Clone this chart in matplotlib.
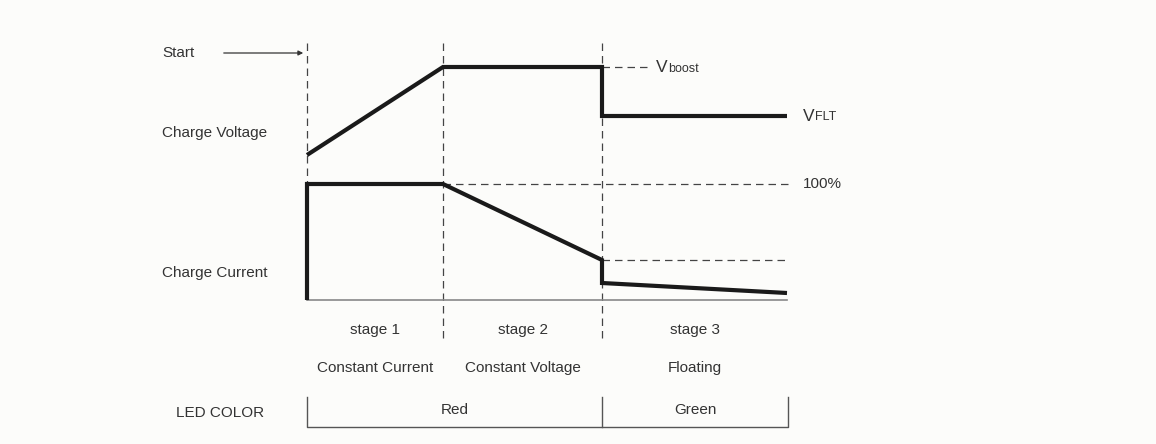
import matplotlib
matplotlib.use("Agg")
import matplotlib.pyplot as plt

# charge profile (diagram units: x to the right, y downwards like the sheet)
volt_x = [307, 443, 602, 602, 787]
volt_y = [155, 67, 67, 116, 116]
curr_x = [307, 307, 443, 602, 602, 787]
curr_y = [300, 184, 184, 260, 283, 293]

stage_x = [307, 443, 602]
stage_names = ["stage 1", "stage 2", "stage 3"]
mode_names = ["Constant Current", "Constant Voltage", "Floating"]
led_names = ["Red", "Green"]

BG = "#fcfcfa"
TXT = "#333333"
plt.rcParams["font.family"] = ["Liberation Sans", "DejaVu Sans"]

fig = plt.figure(figsize=(11.56, 4.44), dpi=100, facecolor=BG)
ax = fig.add_axes([0, 0, 1, 1])
ax.set_facecolor(BG)
ax.set_xlim(0, 1156)
ax.set_ylim(444, 0)
ax.axis("off")

dash = dict(color="#444444", lw=0.9, ls=(0, (6, 4)))
fs = 11

# stage separators
ax.plot([stage_x[0]] * 2, [43, 300], **dash)
ax.plot([stage_x[1]] * 2, [43, 338], **dash)
ax.plot([stage_x[2]] * 2, [43, 338], **dash)

# reference levels
ax.plot([602, 650], [67, 67], **dash)
ax.plot([443, 788], [184, 184], **dash)
ax.plot([602, 788], [260, 260], **dash)

# baseline of current
ax.plot([307, 787], [300, 300], color="#888888", lw=1.2)

# curves
ax.plot(volt_x, volt_y, color="#1a1a1a", lw=3, solid_joinstyle="miter", solid_capstyle="butt")
ax.plot(curr_x, curr_y, color="#1a1a1a", lw=3, solid_joinstyle="miter", solid_capstyle="butt")

# start arrow
ax.annotate("", xy=(306, 53), xytext=(221, 53),
            arrowprops=dict(arrowstyle="-|>", color="#333333", lw=0.9, mutation_scale=7))
ax.text(162, 53, "Start", fontsize=fs, color=TXT, va="center")
ax.text(162, 133, "Charge Voltage", fontsize=fs, color=TXT, va="center")
ax.text(162, 273, "Charge Current", fontsize=fs, color=TXT, va="center")

# level labels
ax.text(656, 67, "V", fontsize=12.5, color=TXT, va="center")
ax.text(668, 69, "boost", fontsize=9, color=TXT, va="center")
ax.text(803, 116, "V", fontsize=12.5, color=TXT, va="center")
ax.text(815, 117, "FLT", fontsize=9, color=TXT, va="center")
ax.text(803, 184, "100%", fontsize=fs, color=TXT, va="center")

# stage labels
stage_ends = stage_x + [787]
for i in range(3):
    cx = (stage_ends[i] + stage_ends[i + 1]) / 2
    ax.text(cx, 330, stage_names[i], fontsize=fs, color=TXT, ha="center", va="center")
    ax.text(cx, 368, mode_names[i], fontsize=fs, color=TXT, ha="center", va="center")

# LED colour bracket
ax.text(176, 413, "LED COLOR", fontsize=fs, color=TXT, va="center")
ax.plot([307, 307, 788, 788], [397, 427, 427, 397], color="#555555", lw=1)
ax.plot([602, 602], [397, 427], color="#555555", lw=1)
ax.text((307 + 602) / 2, 410, led_names[0], fontsize=fs, color=TXT, ha="center", va="center")
ax.text((602 + 788) / 2, 410, led_names[1], fontsize=fs, color=TXT, ha="center", va="center")

fig.savefig("out.png", dpi=100, facecolor=BG)
